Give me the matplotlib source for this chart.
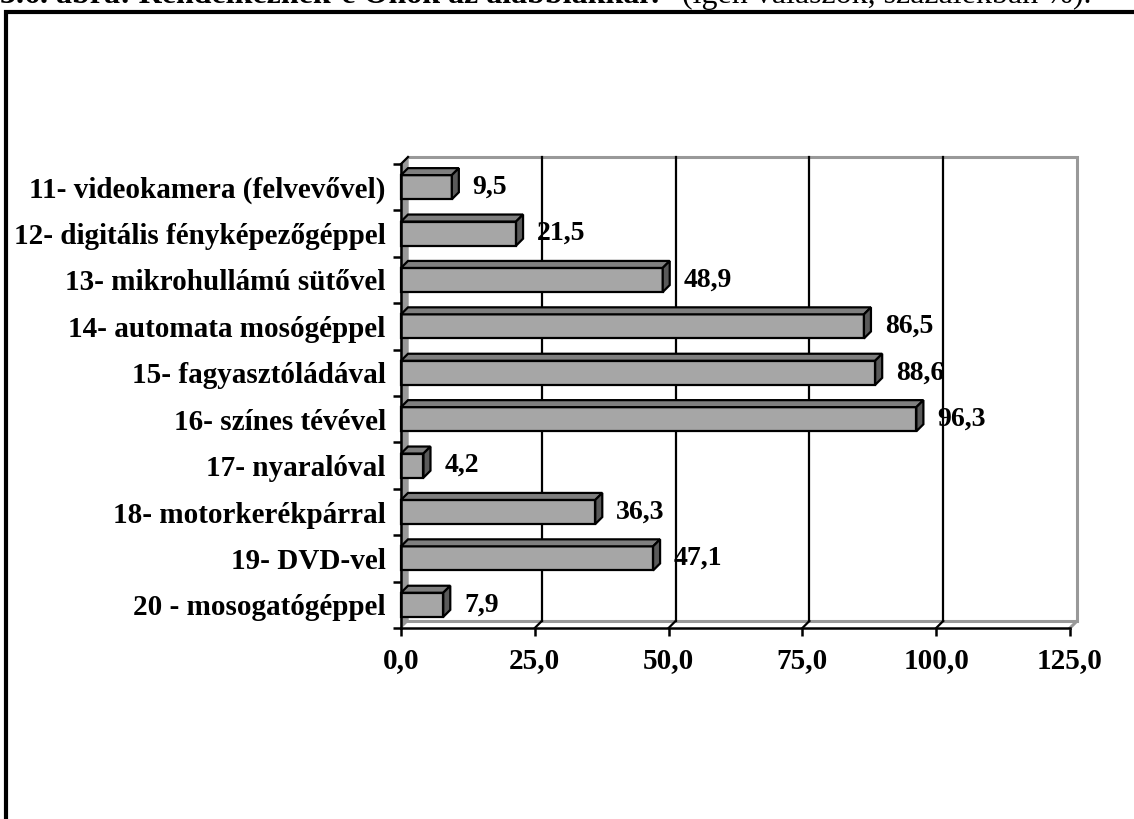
import matplotlib.pyplot as plt
from matplotlib.patches import Polygon, Rectangle

categories = [
    '11- videokamera (felvevővel)',
    '12- digitális fényképezőgéppel',
    '13- mikrohullámú sütővel',
    '14- automata mosógéppel',
    '15- fagyasztóládával',
    '16- színes tévével',
    '17- nyaralóval',
    '18- motorkerékpárral',
    '19- DVD-vel',
    '20 - mosogatógéppel',
]
values = [9.5, 21.5, 48.9, 86.5, 88.6, 96.3, 4.2, 36.3, 47.1, 7.9]
xticks = [0, 25, 50, 75, 100, 125]

W, H, DPI = 1134, 819, 100
FONT = 'Liberation Serif'

# front plane of the plot in pixels
AX_L, AX_R, AX_T, AX_B = 401, 1070, 164, 628
DEPTH = 7  # px of the fake 3d depth

FRONT = '#a6a6a6'
TOP = '#7f7f7f'
SIDE = '#5a5a5a'
WALL = '#999999'


def fmt(v):
    return '{:.1f}'.format(v).replace('.', ',')


def main():
    fig = plt.figure(figsize=(W / DPI, H / DPI), dpi=DPI)
    ax = fig.add_axes([AX_L / W, 1 - AX_B / H, (AX_R - AX_L) / W, (AX_B - AX_T) / H])
    n = len(categories)
    xmax = xticks[-1]
    ax.set_xlim(0, xmax)
    ax.set_ylim(n - 0.5, -0.5)
    ax.patch.set_visible(False)

    # depth in data units
    ddx = DEPTH * xmax / (AX_R - AX_L)
    ddy = DEPTH * n / (AX_B - AX_T)
    y0, y1 = -0.5, n - 0.5

    # left wall, back wall and floor
    ax.add_patch(Polygon([(0, y0), (ddx, y0 - ddy), (ddx, y1 - ddy), (0, y1)],
                         closed=True, facecolor=WALL, edgecolor=WALL, lw=1, clip_on=False))
    ax.plot([ddx, xmax + ddx, xmax + ddx, ddx], [y0 - ddy, y0 - ddy, y1 - ddy, y1 - ddy],
            color=WALL, lw=2.2, clip_on=False, solid_joinstyle='miter')
    ax.plot([xmax + ddx, xmax], [y1 - ddy, y1], color=WALL, lw=2.2, clip_on=False)
    for g in xticks[1:-1]:
        ax.plot([g + ddx, g + ddx], [y0 - ddy, y1 - ddy], color='black', lw=1.6, clip_on=False)
        ax.plot([g, g + ddx], [y1, y1 - ddy], color='black', lw=1.6, clip_on=False)
    ax.plot([0, ddx], [y0, y0 - ddy], color='black', lw=1.6, clip_on=False)

    # bars
    h = 0.52
    for i, v in enumerate(values):
        top, bot = i - h / 2, i + h / 2
        ax.add_patch(Rectangle((0, top), v, h, facecolor=FRONT, edgecolor='black',
                               lw=1.6, zorder=3, clip_on=False))
        ax.add_patch(Polygon([(0, top), (v, top), (v + ddx, top - ddy), (ddx, top - ddy)],
                             closed=True, facecolor=TOP, edgecolor='black', lw=1.6,
                             zorder=3, clip_on=False))
        ax.add_patch(Polygon([(v, top), (v + ddx, top - ddy), (v + ddx, bot - ddy), (v, bot)],
                             closed=True, facecolor=SIDE, edgecolor='black', lw=1.6,
                             zorder=3, clip_on=False))
        ax.annotate(fmt(v), xy=(v + ddx, i), xytext=(10, 0), textcoords='offset points',
                    va='center', ha='left', fontsize=20, fontweight='bold', family=FONT)

    # axes
    for s in ['top', 'right']:
        ax.spines[s].set_visible(False)
    for s in ['left', 'bottom']:
        ax.spines[s].set_linewidth(1.8)
        ax.spines[s].set_zorder(4)
    ax.set_xticks(xticks)
    ax.set_xticklabels([fmt(t) for t in xticks], fontsize=21, fontweight='bold', family=FONT)
    ax.tick_params(axis='x', direction='out', length=6, width=1.8, pad=8)
    ax.set_yticks(range(n))
    ax.set_yticklabels(categories, fontsize=21, fontweight='bold', family=FONT)
    ax.tick_params(axis='y', which='major', length=0, pad=11)
    ax.set_yticks([k - 0.5 for k in range(n + 1)], minor=True)
    ax.tick_params(axis='y', which='minor', direction='out', length=6, width=1.8)

    # heading (runs off the top edge) and outer frame
    fig.text(0, 1 - 3 / H, '3.6. ábra: Rendelkeznek-e Önök az alábbiakkal?',
             fontsize=23, fontweight='bold', family=FONT, va='baseline', ha='left')
    fig.text(682 / W, 1 - 3 / H, '(igen válaszok, százalékban %).',
             fontsize=23, family=FONT, va='baseline', ha='left')
    fig.add_artist(Rectangle((5.5 / W, -0.2), 1.5, 1.2 - 12 / H, transform=fig.transFigure,
                             fill=False, edgecolor='black', lw=3))

    fig.savefig('out.png', dpi=DPI)


if __name__ == '__main__':
    main()
